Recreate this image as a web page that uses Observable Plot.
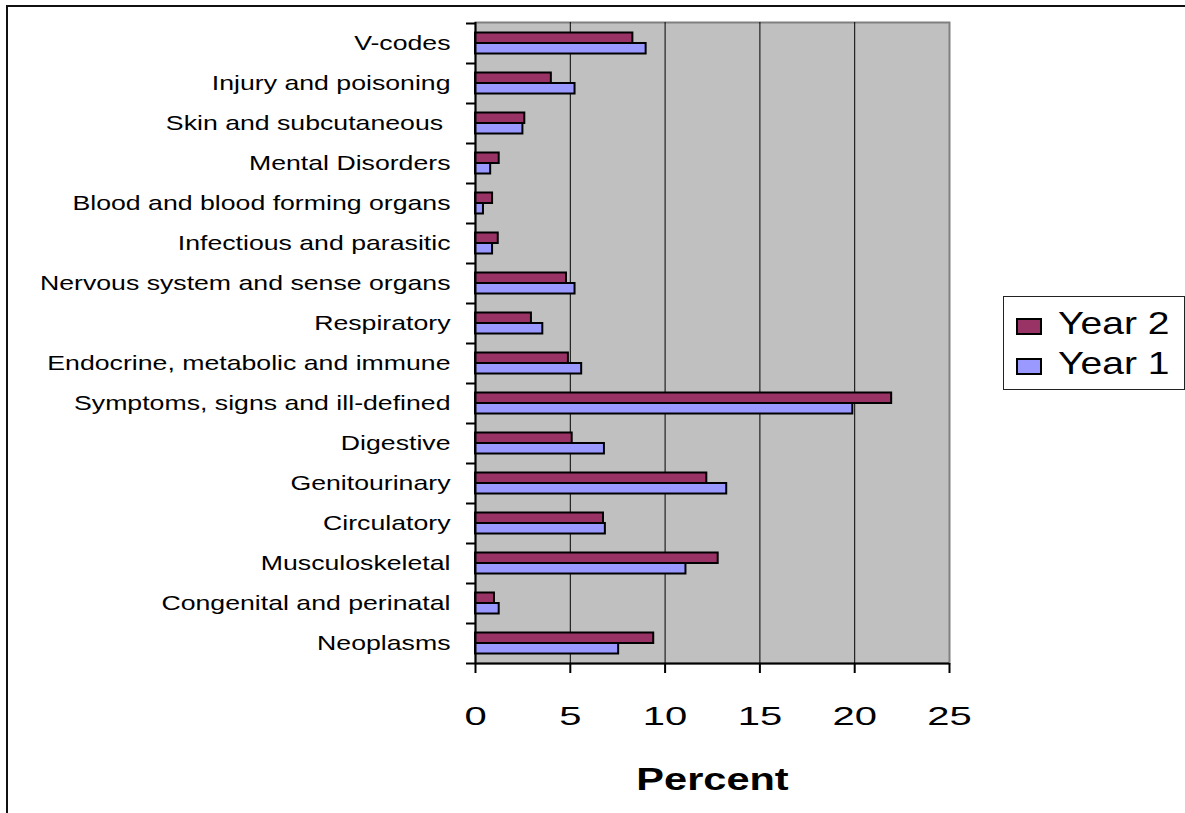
<!DOCTYPE html>
<html><head><meta charset="utf-8">
<script src="https://cdn.jsdelivr.net/npm/d3@7"></script>
<script src="https://cdn.jsdelivr.net/npm/@observablehq/plot@0.6"></script>
<style>
html,body{margin:0;padding:0;background:#fff;overflow:hidden;}
#wrap{position:relative;width:1185px;height:813px;font-family:"Liberation Sans",Arial,sans-serif;}
#chart{position:absolute;left:0;top:0;}
#border{position:absolute;left:6px;top:5px;width:1300px;height:1000px;border-top:2px solid #111;border-left:2px solid #111;}
#legend{position:absolute;left:1003px;top:296px;width:180px;height:92px;border:1px solid #222;background:#fff;}
.lrow{position:absolute;left:0;width:180px;height:40px;}
.lsw{position:absolute;left:12px;top:21px;width:22px;height:13px;border:2px solid #000;}
.ltx{position:absolute;left:54px;top:9.6px;font-size:32px;line-height:32px;white-space:pre;transform:scaleX(1.22);transform-origin:0 0;color:#000;}
</style></head>
<body><div id="wrap"><div id="chart"></div><div id="border"></div><div id="legend"></div></div>
<script>
const categories = ["V-codes","Injury and poisoning","Skin and subcutaneous ","Mental Disorders","Blood and blood forming organs","Infectious and parasitic","Nervous system and sense organs","Respiratory","Endocrine, metabolic and immune","Symptoms, signs and ill-defined","Digestive","Genitourinary","Circulatory","Musculoskeletal","Congenital and perinatal","Neoplasms"];
const year2 = [8.3, 4.0, 2.6, 1.25, 0.9, 1.2, 4.8, 2.95, 4.9, 21.95, 5.1, 12.2, 6.75, 12.8, 1.0, 9.4];
const year1 = [9.0, 5.25, 2.5, 0.8, 0.42, 0.9, 5.25, 3.55, 5.6, 19.9, 6.8, 13.25, 6.85, 11.1, 1.25, 7.55];
const seriesNames = ["Year 2", "Year 1"];
const seriesColors = ["#993366", "#9999FF"];
const xTicks = [0, 5, 10, 15, 20, 25];
const gridTicks = [5, 10, 15, 20];
const xLabel = "Percent";

const rows2 = categories.map((c, i) => ({category: c, series: seriesNames[0], value: year2[i]}));
const rows1 = categories.map((c, i) => ({category: c, series: seriesNames[1], value: year1[i]}));
const lastCat = [categories[categories.length - 1]];

const svg = Plot.plot({
  width: 1185, height: 813,
  marginLeft: 475, marginRight: 236, marginTop: 22, marginBottom: 150,
  style: {fontFamily: '"Liberation Sans", Arial, sans-serif', background: "transparent", color: "#000", overflow: "visible"},
  x: {domain: [0, 25]},
  y: {domain: categories, padding: 0},
  color: {domain: seriesNames, range: seriesColors},
  marks: [
    Plot.frame({fill: "#C0C0C0", stroke: "#808080", strokeWidth: 2}),
    Plot.ruleX(gridTicks, {stroke: "#000", strokeWidth: 1}),
    Plot.barX(rows2, {x: "value", y: "category", fill: "series", stroke: "#000", strokeWidth: 2, insetTop: 9.5, insetBottom: 20}),
    Plot.barX(rows1, {x: "value", y: "category", fill: "series", stroke: "#000", strokeWidth: 2, insetTop: 20, insetBottom: 9.5}),
    Plot.ruleX([0], {stroke: "#000", strokeWidth: 2}),
    Plot.tickY(lastCat, {y: d => d, dy: 20, stroke: "#000", strokeWidth: 2}),
    Plot.axisX(xTicks, {tickSize: 10, tickPadding: 34, strokeWidth: 2, fontSize: 25, label: xLabel, labelAnchor: "center", labelArrow: "none", labelOffset: 126}),
    Plot.axisY({tickSize: 0, tickPadding: 25, fontSize: 21, label: null}),
    Plot.axisY({tickSize: 9, dy: -20, strokeWidth: 2, fill: "none", label: null}),
    Plot.axisY(lastCat, {tickSize: 9, dy: 20, strokeWidth: 2, fill: "none", label: null})
  ]
});
document.getElementById("chart").appendChild(svg);

function stretch(sel, k) {
  svg.querySelectorAll(sel).forEach(t => {
    t.style.whiteSpace = "pre";
    const tr = t.getAttribute("transform") || "";
    t.setAttribute("transform", tr + ` scale(${k},1)`);
  });
}
svg.querySelectorAll('g[aria-label="x-axis label"] text').forEach(t => {
  t.setAttribute("font-size", 31);
  t.style.fontSize = "31px";
  t.setAttribute("font-weight", "bold");
});
stretch('g[aria-label="y-axis tick label"] text', 1.27);
stretch('g[aria-label="x-axis tick label"] text', 1.6);
stretch('g[aria-label="x-axis label"] text', 1.34);

const legend = document.getElementById("legend");
seriesNames.forEach((name, i) => {
  const row = document.createElement("div");
  row.className = "lrow";
  row.style.top = (i * 40) + "px";
  const sw = document.createElement("div");
  sw.className = "lsw";
  sw.style.background = seriesColors[i];
  const tx = document.createElement("span");
  tx.className = "ltx";
  tx.textContent = name;
  row.appendChild(sw); row.appendChild(tx);
  legend.appendChild(row);
});
</script>
</body></html>
